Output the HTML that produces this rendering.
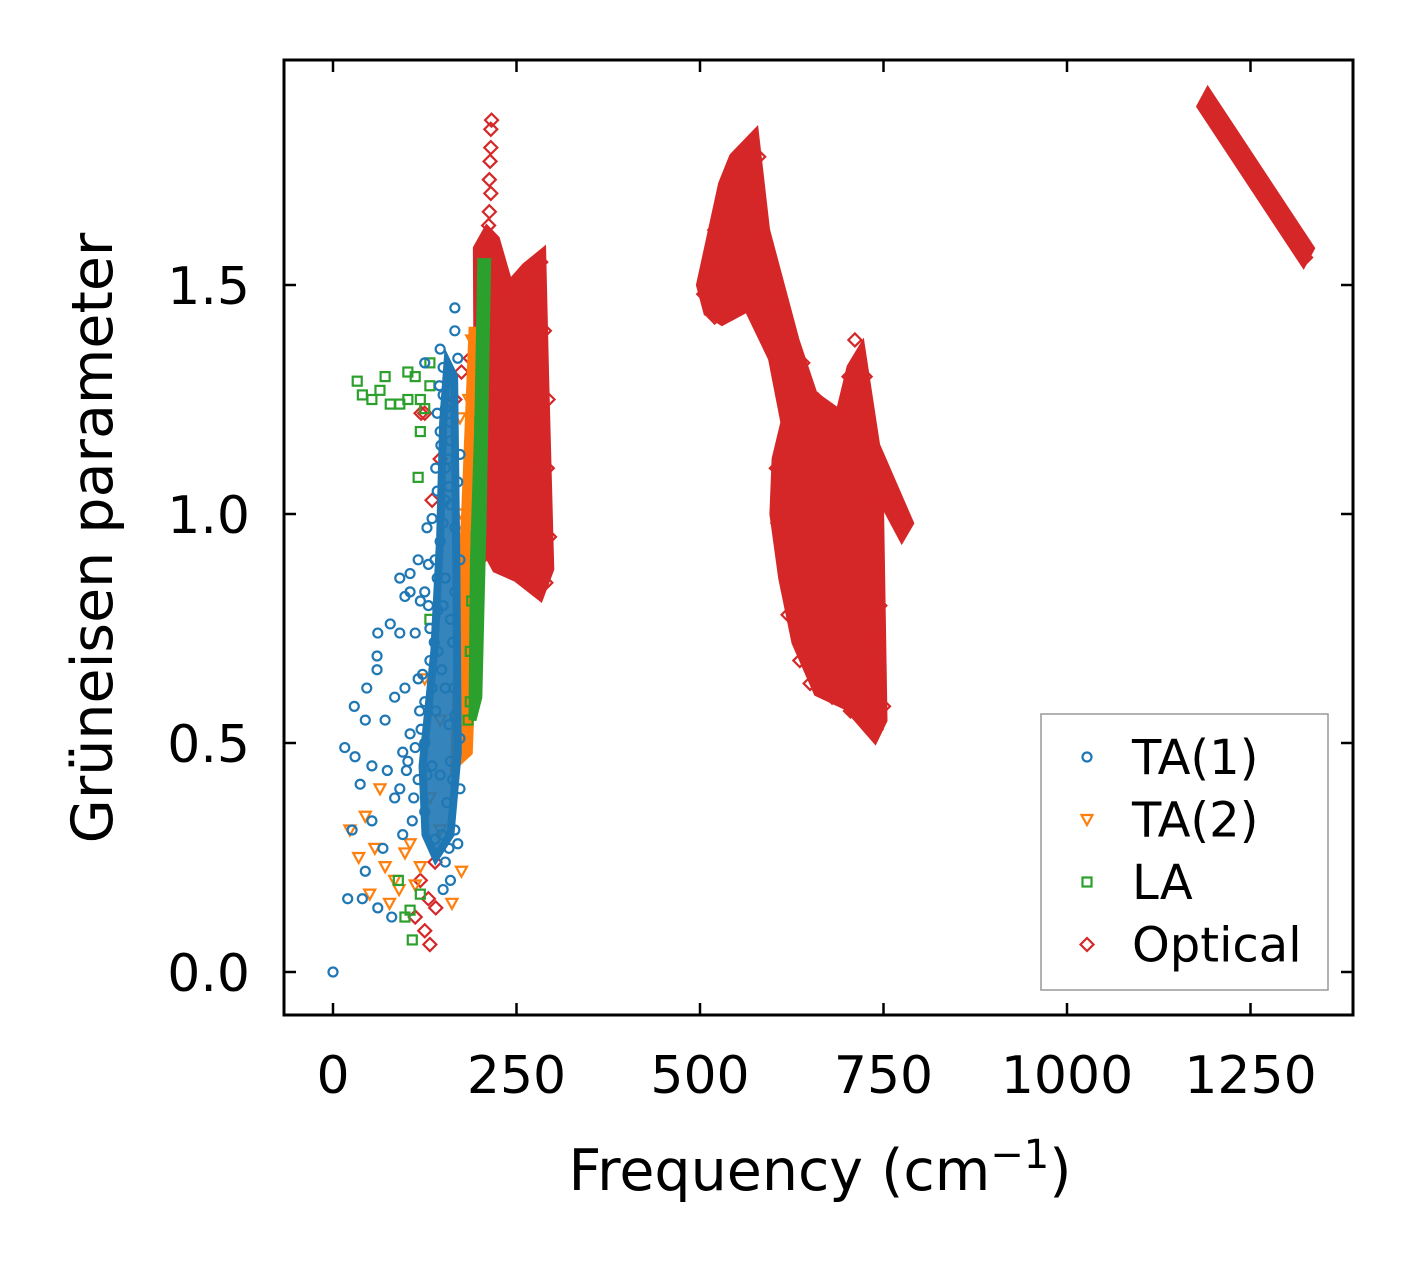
<!DOCTYPE html>
<html><head><meta charset="utf-8"><style>
html,body{margin:0;padding:0;background:#fff}
svg{display:block}
text{font-family:"DejaVu Sans","Liberation Sans",sans-serif;fill:#000}
</style></head><body>
<svg id="chart" width="1413" height="1264" viewBox="0 0 1413 1264">
<rect x="0" y="0" width="1413" height="1264" fill="#fff"/>
<g id="plot"></g>
<rect x="284" y="60" width="1069" height="955" fill="none" stroke="#000" stroke-width="3"/>
<g id="axes"></g>
<text x="0" y="0" transform="translate(112,538) rotate(-90)" text-anchor="middle" font-size="57">Grüneisen parameter</text>
<text x="820" y="1190" text-anchor="middle" font-size="57">Frequency (cm<tspan dy="-22" font-size="40">−1</tspan><tspan dy="22">)</tspan></text>
<g>
<rect x="1041" y="714" width="287" height="276" fill="#fff" stroke="#999" stroke-width="1.5"/>
<g id="legend"></g>
</g>
</svg>
<script>
const xTicks=[0,250,500,750,1000,1250];
const yTicks=[0.0,0.5,1.0,1.5];
const yTickLabels=["0.0","0.5","1.0","1.5"];
const seriesNames=["TA(1)","TA(2)","LA","Optical"];
const seriesColors=["#1f77b4","#ff7f0e","#2ca02c","#d62728"];
// TA(1) points [freq, gamma]
const ta1=[[0,0],[16,0.49],[29,0.58],[46,0.62],[60,0.69],[61,0.74],[78,0.76],[91,0.74],[112,0.74],[91,0.86],[105,0.87],[135,0.99],[166,1.45],[146,1.36],[125,1.33],[166,1.40],
[20,0.16],[40,0.16],[61,0.14],[80,0.12],[26,0.31],[44,0.22],[53,0.33],[68,0.27],[37,0.41],[53,0.45],[74,0.44],[84,0.38],[91,0.40],[102,0.46],[116,0.42],[30,0.47],[44,0.55],[71,0.55],[84,0.60],[98,0.62],[116,0.64],[125,0.59],[132,0.68],[119,0.81],[125,0.83],[139,0.90],[146,0.94],[153,1.03],[157,1.12],[146,1.18],[153,1.23],[160,1.29],[170,1.34],[173,0.40],[166,0.31],[160,0.20],[153,0.24],[139,0.29],[125,0.35],[108,0.33],[146,0.43],[160,0.46],[173,0.51],[166,0.56],[153,0.62],[143,0.70],[160,0.77],[166,0.83],[153,0.86],[143,0.79],[132,0.75],[173,0.90],[166,0.97],[160,1.02],[170,1.07],[160,1.16],[153,1.10],[173,1.13],[142,1.05],[128,0.97],[116,0.90],[105,0.83],[130,0.89],[60,0.66],[98,0.82],[120,0.53],[135,0.45],[110,0.38],[95,0.30],[150,0.18],[158,0.27],[170,0.28],[145,1.28],[150,1.32],[160,1.20],[140,0.57],[128,0.43],
[112,0.49],[105,0.52],[118,0.57],[125,0.50],[100,0.44],[95,0.48],[122,0.65],[135,0.62],[138,0.72],[130,0.80],[148,0.66],[150,0.80],[142,0.86],[150,0.98],[140,1.10],[147,1.15],[142,1.22],[150,1.26],[158,1.06],[163,0.72],[165,0.62],[158,0.54],[163,0.42],[155,0.37],[148,0.30]];
const ta1Band=[[126,0.3],[140,0.25],[160,0.3],[170,0.48],[168,0.9],[165,1.3],[156,1.33],[150,1.2],[146,0.95],[138,0.7],[122,0.45]];
// TA(2)
const ta2=[[23,0.31],[44,0.34],[57,0.27],[71,0.23],[84,0.20],[98,0.26],[112,0.19],[50,0.17],[77,0.15],[64,0.40],[119,0.23],[162,0.15],[175,0.22],[180,0.48],[187,0.59],[180,0.70],[173,0.81],[193,0.90],[187,1.03],[193,1.16],[198,1.29],[189,1.38],[173,1.21],[146,0.55],[125,0.64],[132,0.38],[146,0.31],[35,0.25],[90,0.18],[105,0.28],[178,0.60],[182,0.78],[185,0.95],[190,1.10],[185,1.25],[175,1.00]];
const ta2Band=[[165,0.45],[185,0.48],[195,0.9],[200,1.4],[190,1.4],[180,1.0],[170,0.7]];
// LA
const la=[[33,1.29],[40,1.26],[53,1.25],[64,1.27],[71,1.30],[78,1.24],[91,1.24],[102,1.25],[102,1.31],[112,1.30],[119,1.25],[119,1.18],[116,1.08],[132,1.33],[132,1.28],[125,1.23],[98,0.12],[108,0.07],[105,0.135],[119,0.17],[89,0.20],[132,0.77],[187,0.59],[184,0.55],[187,0.70],[189,0.81],[195,0.95],[200,1.2],[203,1.4],[206,1.5]];
const laBand=[[190,0.55],[198,0.6],[204,1.0],[210,1.55],[202,1.55],[198,1.2],[192,0.9]];
// Optical
const optical=[[119,0.20],[130,0.16],[132,0.06],[125,0.09],[112,0.12],[139,0.24],[135,1.03],[146,1.12],[125,1.22],[166,1.25],[175,1.31],[187,1.34],[212,1.35],[213,1.38],[214,1.42],[213,1.46],[214,1.50],[213,1.53],[215,1.57],[214,1.60],[212,1.63],[213,1.66],[215,1.70],[213,1.73],[214,1.77],[215,1.80],[215,1.84],[216,1.86],[187,0.90],[200,0.90],[711,1.38],[721,0.95],[729,0.79],[738,0.70],[650,0.63],[663,0.64],[290,0.85],[280,0.84],[295,0.95],[283,1.55],[272,1.52],[120,1.22],[140,0.14],
[208,1.05],[204,1.20],[198,1.30],[292,1.10],[293,1.25],[288,1.40],[262,0.86],[240,0.88],[226,0.92],[230,1.50],[255,1.52],[580,1.78],[560,1.78],[540,1.74],[520,1.62],[505,1.48],[520,1.43],[545,1.44],[598,1.36],[612,1.28],[640,1.33],[660,1.25],[675,1.22],[606,0.98],[604,1.10],[620,0.78],[636,0.68],[680,0.60],[705,0.57],[740,0.53],[750,0.58],[745,0.80],[740,1.00],[765,1.02],[780,0.98],[725,1.30],[703,1.30],[1190,1.90],[1230,1.80],[1270,1.70],[1310,1.62],[1325,1.56]];
const optBandA=[[196,1.58],[210,1.62],[222,1.60],[240,1.5],[262,1.54],[285,1.57],[289,1.3],[296,0.88],[282,0.82],[250,0.86],[222,0.88],[198,0.95]];
const optBandB=[[500,1.5],[530,1.72],[545,1.78],[575,1.83],[590,1.62],[630,1.38],[655,1.26],[690,1.22],[705,1.32],[720,1.36],[740,1.15],[786,0.98],[775,0.95],[745,1.04],[750,0.55],[738,0.51],[700,0.58],[660,0.61],[630,0.72],[612,0.86],[600,1.0],[603,1.12],[615,1.2],[598,1.34],[565,1.45],[530,1.42],[510,1.44]];
const optBandD=[[1182,1.89],[1192,1.92],[1332,1.58],[1322,1.55]];

const NS="http://www.w3.org/2000/svg";
const xs=v=>333+v*0.734;
const ys=v=>972-v*458;
const plot=document.getElementById('plot');
function mk(t,a){const e=document.createElementNS(NS,t);for(const k in a)e.setAttribute(k,a[k]);return e;}
function band(arr,color,name,op){
  const p=mk('polygon',{points:arr.map(d=>xs(d[0])+','+ys(d[1])).join(' '),fill:color,'fill-opacity':op,stroke:color,'stroke-width':8,'stroke-linejoin':'miter'});
  
  
  plot.appendChild(p);
}
function marker(kind,x,y,color,parent){
  let e;
  if(kind===0)e=mk('circle',{cx:x,cy:y,r:4.5});
  else if(kind===1)e=mk('polygon',{points:`${x-5.5},${y-4.5} ${x+5.5},${y-4.5} ${x},${y+5.5}`});
  else if(kind===2)e=mk('rect',{x:x-4.5,y:y-4.5,width:9,height:9});
  else e=mk('polygon',{points:`${x},${y-6.5} ${x+6.5},${y} ${x},${y+6.5} ${x-6.5},${y}`});
  e.setAttribute('fill','none');e.setAttribute('stroke',color);e.setAttribute('stroke-width',2.2);
  parent.appendChild(e);return e;
}
function series(arr,kind,color,name){
  const g=mk('g',{});
  
  
  arr.forEach(d=>{
    const m=marker(kind,xs(d[0]),ys(d[1]),color,g);
    
    
  });
  plot.appendChild(g);
}
band(optBandA,seriesColors[3],'optical-region-low',1);
band(optBandB,seriesColors[3],'optical-region-mid',1);
band(optBandD,seriesColors[3],'optical-region-high',1);
series(optical,3,seriesColors[3],'optical-series');
band(ta2Band,seriesColors[1],'ta2-band',1);
series(ta2,1,seriesColors[1],'ta2-series');
band(laBand,seriesColors[2],'la-band',1);
series(la,2,seriesColors[2],'la-series');
band(ta1Band,seriesColors[0],'ta1-band',0.9);
series(ta1,0,seriesColors[0],'ta1-series');

const axes=document.getElementById('axes');
xTicks.forEach(v=>{
  const x=xs(v);
  const a=mk('line',{x1:x,x2:x,y1:1015,y2:1003,stroke:'#000','stroke-width':2.5});
  
  
  axes.appendChild(a);
  const b=mk('line',{x1:x,x2:x,y1:60,y2:72,stroke:'#000','stroke-width':2.5});
  
  
  axes.appendChild(b);
  const t=mk('text',{x:x,y:1093,'text-anchor':'middle','font-size':52});
  t.textContent=String(v);
  
  
  axes.appendChild(t);
});
yTicks.forEach((v,i)=>{
  const y=ys(v);
  const a=mk('line',{x1:284,x2:296,y1:y,y2:y,stroke:'#000','stroke-width':2.5});
  
  
  axes.appendChild(a);
  const b=mk('line',{x1:1341,x2:1353,y1:y,y2:y,stroke:'#000','stroke-width':2.5});
  
  
  axes.appendChild(b);
  const t=mk('text',{x:250,y:y+19,'text-anchor':'end','font-size':52});
  t.textContent=yTickLabels[i];
  
  
  axes.appendChild(t);
});
const leg=document.getElementById('legend');
seriesNames.forEach((n,i)=>{
  const y=757+i*62.5;
  const g=mk('g',{});
  
  
  marker(i,1087,y,seriesColors[i],g);
  const t=mk('text',{x:1132,y:y+17,'font-size':48});
  t.textContent=n;
  g.appendChild(t);
  leg.appendChild(g);
});
</script>
</body></html>
